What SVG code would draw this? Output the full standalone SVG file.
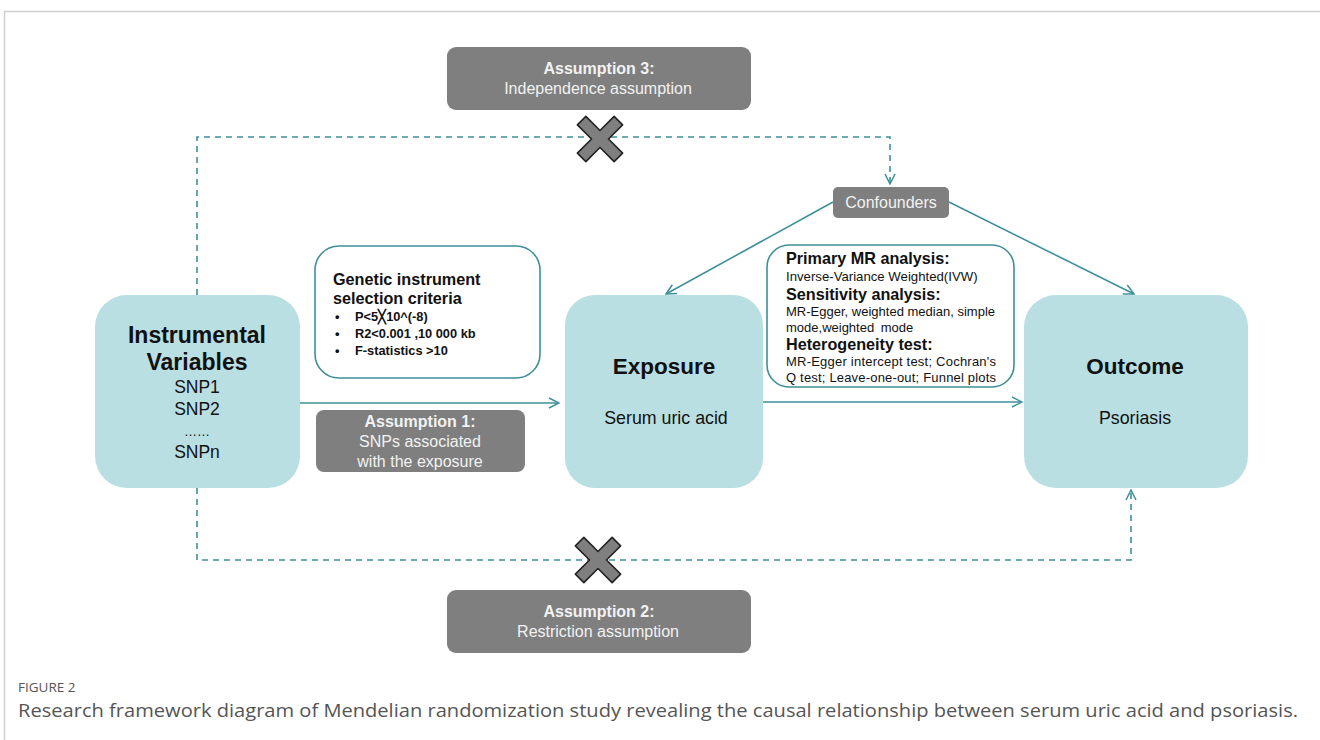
<svg xmlns="http://www.w3.org/2000/svg" width="1320" height="740" viewBox="0 0 1320 740">
<defs>
<style>
.node{fill:#b9dfe3;}
.gbox{fill:#7f7f7f;}
.tbox{fill:#ffffff;stroke:#3e9098;stroke-width:1.6;}
.t{font-family:"Liberation Sans",Arial,sans-serif;fill:#111;}
.w{font-family:"Liberation Sans",Arial,sans-serif;fill:#f2f2f2;}
.b{font-weight:bold;}
.solid{fill:none;stroke:#3e9098;stroke-width:1.6;}
.dash{fill:none;stroke:#3e9098;stroke-width:1.6;stroke-dasharray:6 5;}
.cross{fill:#7f7f7f;stroke:#222;stroke-width:1.6;stroke-linejoin:round;}
.cap{font-family:"Open Sans","Liberation Sans",sans-serif;fill:#555;}
</style>
<marker id="ah" viewBox="0 0 12 12" refX="11" refY="6" markerWidth="12" markerHeight="12" markerUnits="userSpaceOnUse" orient="auto">
<path d="M1,1 L11,6 L1,11" fill="none" stroke="#3e9098" stroke-width="1.5"/>
</marker>
<polygon id="x" points="-6,-26 6,-26 6,-6 26,-6 26,6 6,6 6,26 -6,26 -6,6 -26,6 -26,-6 -6,-6"/>
</defs>
<rect width="1320" height="740" fill="#ffffff"/>
<path d="M4.5,740 L4.5,11.5 L1320,11.5" fill="none" stroke="#d0d0d0" stroke-width="1.5"/>

<g id="connectors">
<path class="dash" d="M197,295 L197,137 L890,137 L890,184" marker-end="url(#ah)"/>
<path class="dash" d="M197,488 L197,560 L1131,560 L1131,490" marker-end="url(#ah)"/>
<path class="solid" d="M300,403 L559,403" marker-end="url(#ah)"/>
<path class="solid" d="M763,402 L1022,402" marker-end="url(#ah)"/>
<path class="solid" d="M833,202 L666,294" marker-end="url(#ah)"/>
<path class="solid" d="M949,202 L1134,294" marker-end="url(#ah)"/>
</g>

<g id="cross1"><use href="#x" class="cross" transform="translate(600,139) rotate(45)"/></g>
<g id="cross2"><use href="#x" class="cross" transform="translate(598,560) rotate(45)"/></g>

<g id="assumption3">
<rect class="gbox" x="447" y="47" width="304" height="63" rx="9"/>
<text class="w b" x="599" y="74" font-size="16" text-anchor="middle">Assumption 3:</text>
<text class="w" x="598" y="94" font-size="16" text-anchor="middle">Independence assumption</text>
</g>

<g id="assumption2">
<rect class="gbox" x="447" y="590" width="304" height="63" rx="9"/>
<text class="w b" x="599" y="617" font-size="16" text-anchor="middle">Assumption 2:</text>
<text class="w" x="598" y="637" font-size="16" text-anchor="middle">Restriction assumption</text>
</g>

<g id="assumption1">
<rect class="gbox" x="316" y="410" width="209" height="62" rx="8"/>
<text class="w b" x="420" y="427" font-size="16" text-anchor="middle">Assumption 1:</text>
<text class="w" x="420" y="447" font-size="16" text-anchor="middle">SNPs associated</text>
<text class="w" x="420" y="467" font-size="16" text-anchor="middle">with the exposure</text>
</g>

<g id="confounders">
<rect class="gbox" x="833" y="187" width="116" height="31" rx="5"/>
<text class="w" x="891" y="208" font-size="16" text-anchor="middle">Confounders</text>
</g>

<g id="iv">
<rect class="node" x="95" y="295" width="205" height="193" rx="32"/>
<text class="t b" x="197" y="343" font-size="23" text-anchor="middle">Instrumental</text>
<text class="t b" x="197" y="370" font-size="23" text-anchor="middle">Variables</text>
<text class="t" x="197" y="393" font-size="17.5" text-anchor="middle">SNP1</text>
<text class="t" x="197" y="415" font-size="17.5" text-anchor="middle">SNP2</text>
<text class="t" x="197" y="436" font-size="13" text-anchor="middle">……</text>
<text class="t" x="197" y="458" font-size="17.5" text-anchor="middle">SNPn</text>
</g>

<g id="exposure">
<rect class="node" x="565" y="295" width="198" height="193" rx="30"/>
<text class="t b" x="664" y="374" font-size="22.5" text-anchor="middle">Exposure</text>
<text class="t" x="666" y="424" font-size="17.8" text-anchor="middle">Serum uric acid</text>
</g>

<g id="outcome">
<rect class="node" x="1024" y="295" width="224" height="193" rx="32"/>
<text class="t b" x="1135" y="374" font-size="22.5" text-anchor="middle">Outcome</text>
<text class="t" x="1135" y="424" font-size="17.8" text-anchor="middle">Psoriasis</text>
</g>

<g id="criteria">
<rect class="tbox" x="315" y="246" width="225" height="132" rx="24"/>
<text class="t b" x="333" y="285" font-size="16.2">Genetic instrument</text>
<text class="t b" x="333" y="304" font-size="16.2">selection criteria</text>
<text class="t b" x="335" y="321" font-size="12.8">•</text>
<text class="t b" x="355" y="321" font-size="12.8">P&lt;5╳10^(-8)</text>
<text class="t b" x="335" y="338" font-size="12.8">•</text>
<text class="t b" x="355" y="338" font-size="12.8">R2&lt;0.001 ,10 000 kb</text>
<text class="t b" x="335" y="355" font-size="12.8">•</text>
<text class="t b" x="355" y="355" font-size="12.8">F-statistics &gt;10</text>
</g>

<g id="methods">
<rect class="tbox" x="767" y="245" width="247" height="142" rx="22"/>
<text class="t b" x="786" y="264" font-size="16.2">Primary MR analysis:</text>
<text class="t" x="786" y="281" font-size="13.2">Inverse-Variance Weighted(IVW)</text>
<text class="t b" x="786" y="300" font-size="16.2">Sensitivity analysis:</text>
<text class="t" x="786" y="316" font-size="13" textLength="209" lengthAdjust="spacing">MR-Egger, weighted median, simple</text>
<text class="t" x="786" y="332" font-size="13" word-spacing="3">mode,weighted  mode</text>
<text class="t b" x="786" y="350" font-size="16.2">Heterogeneity test:</text>
<text class="t" x="786" y="366" font-size="13" textLength="210" lengthAdjust="spacing">MR-Egger  intercept test; Cochran's</text>
<text class="t" x="786" y="382" font-size="13" textLength="210" lengthAdjust="spacing">Q test; Leave-one-out;  Funnel plots</text>
</g>

<g id="caption">
<text class="cap" x="18" y="692" font-size="13.5">FIGURE 2</text>
<text class="cap" x="18" y="717" font-size="18.5" textLength="1280" lengthAdjust="spacingAndGlyphs">Research framework diagram of Mendelian randomization study revealing the causal relationship between serum uric acid and psoriasis.</text>
</g>
</svg>
